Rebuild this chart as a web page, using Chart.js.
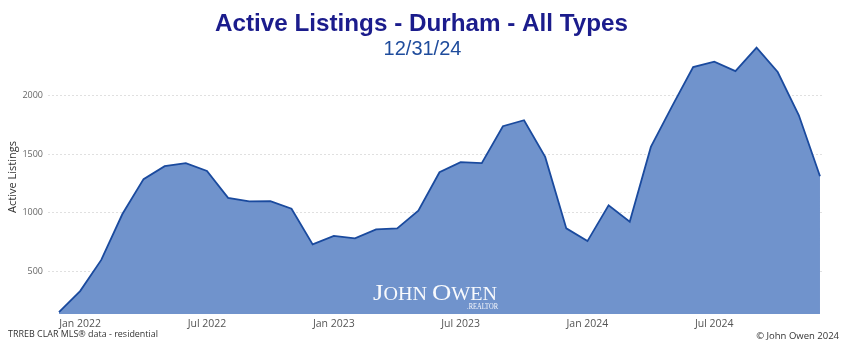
<!DOCTYPE html>
<html>
<head>
<meta charset="utf-8">
<script src="https://cdn.jsdelivr.net/npm/chart.js@4"></script>
<style>
  html, body { margin: 0; padding: 0; background: #ffffff; }
  #wrap { width: 844px; height: 347px; position: relative; }
</style>
</head>
<body>
<div id="wrap"><canvas id="c" width="844" height="347"></canvas></div>
<script>
// ---- data ----
const months = [
  'Dec 2021',
  'Jan 2022','Feb 2022','Mar 2022','Apr 2022','May 2022','Jun 2022',
  'Jul 2022','Aug 2022','Sep 2022','Oct 2022','Nov 2022','Dec 2022',
  'Jan 2023','Feb 2023','Mar 2023','Apr 2023','May 2023','Jun 2023',
  'Jul 2023','Aug 2023','Sep 2023','Oct 2023','Nov 2023','Dec 2023',
  'Jan 2024','Feb 2024','Mar 2024','Apr 2024','May 2024','Jun 2024',
  'Jul 2024','Aug 2024','Sep 2024','Oct 2024','Nov 2024','Dec 2024'
];
const activeListings = [
  155,
  335, 600, 990, 1287, 1397, 1423,
  1357, 1128, 1097, 1100, 1035, 732,
  805, 783, 860, 868, 1018, 1345,
  1431, 1423, 1737, 1788, 1476, 868,
  760, 1064, 924, 1561, 1905, 2240,
  2286, 2206, 2405, 2198, 1830, 1312
];
const xTickLabels = ['Jan 2022','Jul 2022','Jan 2023','Jul 2023','Jan 2024','Jul 2024'];
const yTickValues = [500, 1000, 1500, 2000];

const titleText = 'Active Listings - Durham - All Types';
const subtitleText = '12/31/24';
const yAxisTitle = 'Active Listings';
const sourceText = 'TRREB CLAR MLS\u00AE data - residential';
const copyrightText = '\u00A9 John Owen 2024';

// ---- chart ----
const points = activeListings.map((v, i) => ({ x: i, y: v }));
const uiFont = "'Open Sans', 'Noto Sans', sans-serif";

function fitText(ctx, text, x, y, targetW) {
  const w = ctx.measureText(text).width;
  ctx.save();
  ctx.translate(x, y);
  ctx.scale(targetW / w, 1);
  ctx.fillText(text, 0, 0);
  ctx.restore();
}

const textPlugin = {
  id: 'texts',
  afterDatasetsDraw(chart) {
    const ctx = chart.ctx;
    // watermark
    ctx.save();
    ctx.fillStyle = 'rgba(255,255,255,0.95)';
    ctx.textBaseline = 'alphabetic';
    const parts = [['J', 24], ['OHN', 18], [' ', 18], ['O', 24], ['WEN', 18]];
    let w = 0;
    parts.forEach(p => { ctx.font = p[1] + "px 'Liberation Serif', serif"; w += ctx.measureText(p[0]).width; });
    const targetW = 124, sx = targetW / w;
    ctx.translate(373, 300);
    ctx.scale(sx, 1);
    let x = 0;
    parts.forEach(p => {
      ctx.font = p[1] + "px 'Liberation Serif', serif";
      ctx.fillText(p[0], x, 0);
      x += ctx.measureText(p[0]).width;
    });
    ctx.restore();
    ctx.save();
    ctx.fillStyle = 'rgba(255,255,255,0.95)';
    ctx.font = "8px 'Liberation Serif', serif";
    ctx.textBaseline = 'alphabetic';
    fitText(ctx, '.REALTOR', 467, 309, 31);
    ctx.restore();
  },
  afterDraw(chart) {
    const ctx = chart.ctx;
    // title
    ctx.save();
    ctx.font = "bold 24px 'Liberation Sans', Arial, sans-serif";
    ctx.fillStyle = '#1b1c8c';
    ctx.textBaseline = 'alphabetic';
    fitText(ctx, titleText, 215, 31, 413);
    ctx.restore();
    // subtitle
    ctx.save();
    ctx.font = "20px 'Liberation Sans', Arial, sans-serif";
    ctx.fillStyle = '#1f4c9c';
    ctx.textAlign = 'center';
    ctx.textBaseline = 'alphabetic';
    ctx.fillText(subtitleText, 422.5, 55);
    ctx.restore();
    // footers
    ctx.save();
    ctx.font = "9.5px " + uiFont;
    ctx.fillStyle = '#333333';
    ctx.textBaseline = 'middle';
    fitText(ctx, sourceText, 8, 334, 150);
    ctx.textAlign = 'right';
    ctx.fillText(copyrightText, 839, 336);
    ctx.restore();
  }
};

new Chart(document.getElementById('c'), {
  type: 'line',
  data: {
    datasets: [{
      label: yAxisTitle,
      data: points,
      borderColor: '#1a4a9e',
      borderWidth: 1.8,
      backgroundColor: '#7093cc',
      fill: 'start',
      pointRadius: 0,
      tension: 0
    }]
  },
  options: {
    responsive: false,
    animation: false,
    events: [],
    layout: { padding: { top: 40, right: 20, left: 0, bottom: 0 } },
    plugins: {
      legend: { display: false },
      tooltip: { enabled: false },
      title: { display: false }
    },
    scales: {
      x: {
        type: 'linear',
        min: -0.52,
        max: 36.19,
        grid: { display: false, drawTicks: false },
        border: { display: false },
        afterFit(scale) { scale.height = 33; },
        afterBuildTicks(scale) {
          scale.ticks = xTickLabels.map(l => ({ value: months.indexOf(l) }));
        },
        ticks: {
          autoSkip: false,
          maxRotation: 0,
          padding: 4,
          color: '#555555',
          font: { family: uiFont, size: 10.5 },
          callback: (v) => months[v]
        }
      },
      y: {
        min: 140,
        max: 2470,
        afterFit(scale) { scale.width = 48; },
        afterBuildTicks(scale) {
          scale.ticks = yTickValues.map(v => ({ value: v }));
        },
        grid: { color: '#e0e0e0', lineWidth: 1, drawTicks: false },
        border: { display: false, dash: [2, 2] },
        ticks: {
          padding: 5,
          color: '#666666',
          font: { family: uiFont, size: 9 },
          callback: (v) => String(v)
        },
        title: {
          display: true,
          text: yAxisTitle,
          color: '#333333',
          font: { family: uiFont, size: 11 },
          padding: { top: 6, bottom: 0 }
        }
      }
    }
  },
  plugins: [textPlugin]
});
</script>
</body>
</html>
